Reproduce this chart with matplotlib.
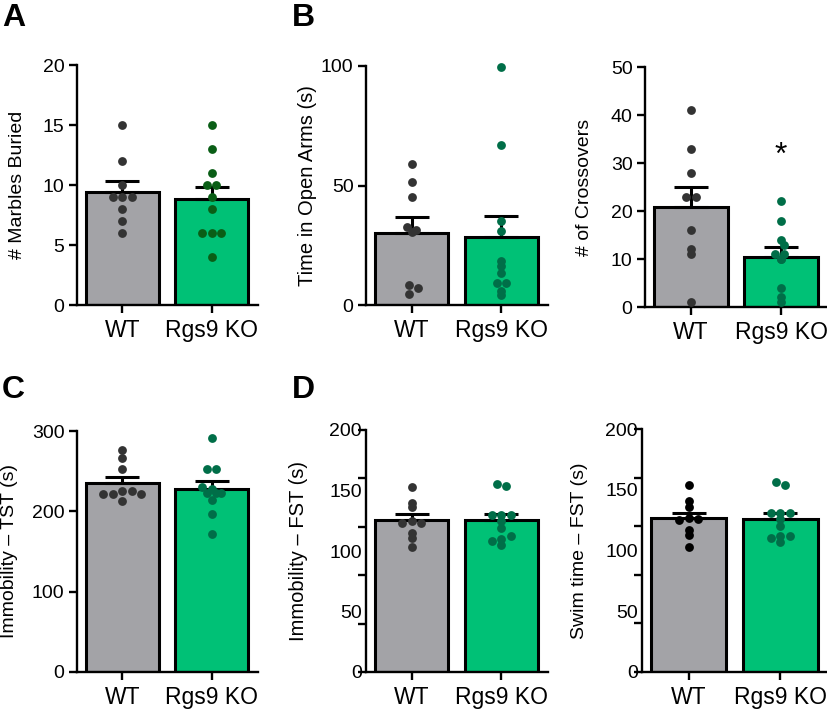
import matplotlib
matplotlib.use("Agg")
import matplotlib.pyplot as plt
import numpy as np

plt.rcParams['font.family'] = ['Liberation Sans', 'DejaVu Sans']

groups = ["WT", "Rgs9 KO"]

# A - marble burying
marbles_wt = [15, 12, 10, 9, 9, 9, 8, 7, 6]
marbles_ko = [15, 13, 11, 10, 10, 9, 8, 6, 6, 6, 4]
marbles_mean = [9.4, 8.85]
marbles_sem = [0.9, 1.0]

# B - elevated plus maze
arms_wt = [59, 51.5, 45, 32.5, 31.5, 30.5, 8.5, 7, 4.5]
arms_ko = [99.5, 67, 35, 31, 18.5, 16.5, 13.5, 9, 9, 6, 4]
arms_mean = [30.2, 28.3]
arms_sem = [6.6, 8.9]

cross_wt = [41, 33, 28, 23, 23, 16, 12, 11, 1]
cross_ko = [22, 18, 14, 13, 11, 11, 10, 10, 4, 2, 1]
cross_mean = [20.8, 10.4]
cross_sem = [4.1, 2.0]

# C - tail suspension
tst_wt = [276, 266, 253, 225, 225, 221, 221, 221, 213]
tst_ko = [291, 253, 253, 230, 228, 223, 223, 223, 214, 197, 172]
tst_mean = [235.3, 227.8]
tst_sem = [7.4, 9.5]

# D - forced swim
fst_wt = [153, 140, 136, 125, 123, 123, 115, 111, 103]
fst_ko = [154, 155, 130, 130, 130, 125, 119, 112, 110, 108, 105]
fst_mean = [125.5, 125.5]
fst_sem = [5.0, 5.0]

swim_wt = [154, 141, 136, 127, 126, 125, 117, 113, 103]
swim_ko = [154, 156, 131, 131, 131, 126, 120, 112, 112, 110, 107]
swim_mean = [126.5, 126.0]
swim_sem = [4.7, 5.2]

W, H = 828, 711
XLIM = (-0.51, 1.52)
GRAY = "#a3a3a7"
GREEN = "#00c176"
DOT = 8.8    # dot diameter, px
SPACE = 9.5  # swarm spacing, px


def swarm(vals, w_px, h_px, ylim):
    sx = w_px / (XLIM[1] - XLIM[0])
    sy = h_px / (ylim[1] - ylim[0])
    ys = np.array(vals, dtype=float) * sy
    xs = np.zeros(len(vals))
    placed = []
    cands = [0] + [s * j for j in range(1, 8) for s in (1, -1)]
    for i in np.argsort(-ys):
        for c in cands:
            x = c * SPACE
            if all((x - px) ** 2 + (ys[i] - py) ** 2 >= (SPACE * 0.98) ** 2 for px, py in placed):
                break
        placed.append((x, ys[i]))
        xs[i] = x
    # centre touching clusters around the bar
    n = len(vals)
    lab = list(range(n))

    def find(a):
        while lab[a] != a:
            a = lab[a]
        return a
    for a in range(n):
        for b in range(a + 1, n):
            if (xs[a] - xs[b]) ** 2 + (ys[a] - ys[b]) ** 2 < (SPACE * 1.1) ** 2:
                lab[find(a)] = find(b)
    roots = [find(a) for a in range(n)]
    for r in set(roots):
        idx = [a for a in range(n) if roots[a] == r]
        xs[idx] -= xs[idx].mean()
    return xs / sx


fig = plt.figure(figsize=(W / 100, H / 100), dpi=100)


def panel(px, wt, ko, mean, sem, ylim, ylabel, lab_x, lab_size,
          major, minor=None, wt_col="#333333", ko_col="#006e48"):
    x0, x1, yt, yb = px
    ax = fig.add_axes([x0 / W, 1 - yb / H, (x1 - x0) / W, (yb - yt) / H])
    ax.bar([0, 1], mean, width=0.82, color=[GRAY, GREEN], edgecolor="black",
           linewidth=2.2, zorder=1)
    ax.errorbar([0, 1], mean, yerr=[[0, 0], sem], fmt="none", ecolor="black",
                elinewidth=2.2, capsize=12.5, capthick=2.2, zorder=2)
    for i, (vals, col) in enumerate([(wt, wt_col), (ko, ko_col)]):
        xs = swarm(vals, x1 - x0, yb - yt, ylim)
        ax.plot(i + xs, vals, "o", ms=DOT * 0.72, color=col, mec="none",
                zorder=4, clip_on=False)
    ax.set_xlim(*XLIM)
    ax.set_ylim(*ylim)
    ax.set_xticks([0, 1])
    ax.set_xticklabels(groups, fontsize=16.5)
    for s in ["top", "right"]:
        ax.spines[s].set_visible(False)
    for s in ["left", "bottom"]:
        ax.spines[s].set_linewidth(1.7)
    ax.tick_params(axis="x", length=6, width=1.7, pad=4)
    ax.set_yticks(major)
    ax.tick_params(axis="y", labelsize=14, pad=3)
    if minor is None:
        ax.tick_params(axis="y", length=6, width=1.7)
    else:
        ax.yaxis.remove_overlapping_locs = False
        ax.set_yticks(minor, minor=True)
        ax.tick_params(axis="y", which="major", length=0)
        ax.tick_params(axis="y", which="minor", length=6, width=1.7)
    ax.set_ylabel(ylabel, fontsize=lab_size)
    ax.yaxis.set_label_coords(lab_x, 0.5)
    return ax


panel((77, 258, 65, 305), marbles_wt, marbles_ko, marbles_mean, marbles_sem,
      (0, 20), "# Marbles Buried", -0.28, 14, [0, 5, 10, 15, 20],
      ko_col="#0a5e16")
panel((366, 548, 66, 305), arms_wt, arms_ko, arms_mean, arms_sem,
      (0, 100), "Time in Open Arms (s)", -0.27, 14.5, [0, 50, 100])
ax3 = panel((645, 828, 67, 307), cross_wt, cross_ko, cross_mean, cross_sem,
            (0, 50), "# of Crossovers", -0.285, 14, [0, 10, 20, 30, 40, 50])
ax3.text(1, 29.8, "*", ha="center", va="baseline", fontsize=23)

panel((77, 258, 431, 672), tst_wt, tst_ko, tst_mean, tst_sem,
      (0, 300), "Immobility – TST (s)", -0.325, 14, [0, 100, 200, 300])
panel((366, 548, 430, 672), fst_wt, fst_ko, fst_mean, fst_sem,
      (0, 200), "Immobility – FST (s)", -0.32, 14.5, [0, 50, 100, 150, 200],
      minor=[0, 40, 80, 120, 160, 200])
panel((642, 828, 429, 672), swim_wt, swim_ko, swim_mean, swim_sem,
      (0, 200), "Swim time – FST (s)", -0.29, 14, [0, 50, 100, 150, 200],
      minor=[0, 40, 80, 120, 160, 200], wt_col="black")

for letter, x, y in [("A", 2, 3), ("B", 292, 3), ("C", 2, 375), ("D", 292, 375)]:
    fig.text(x / W, 1 - y / H, letter, ha="left", va="top", fontsize=23,
             fontweight="bold")

fig.savefig("out.png", dpi=100)
